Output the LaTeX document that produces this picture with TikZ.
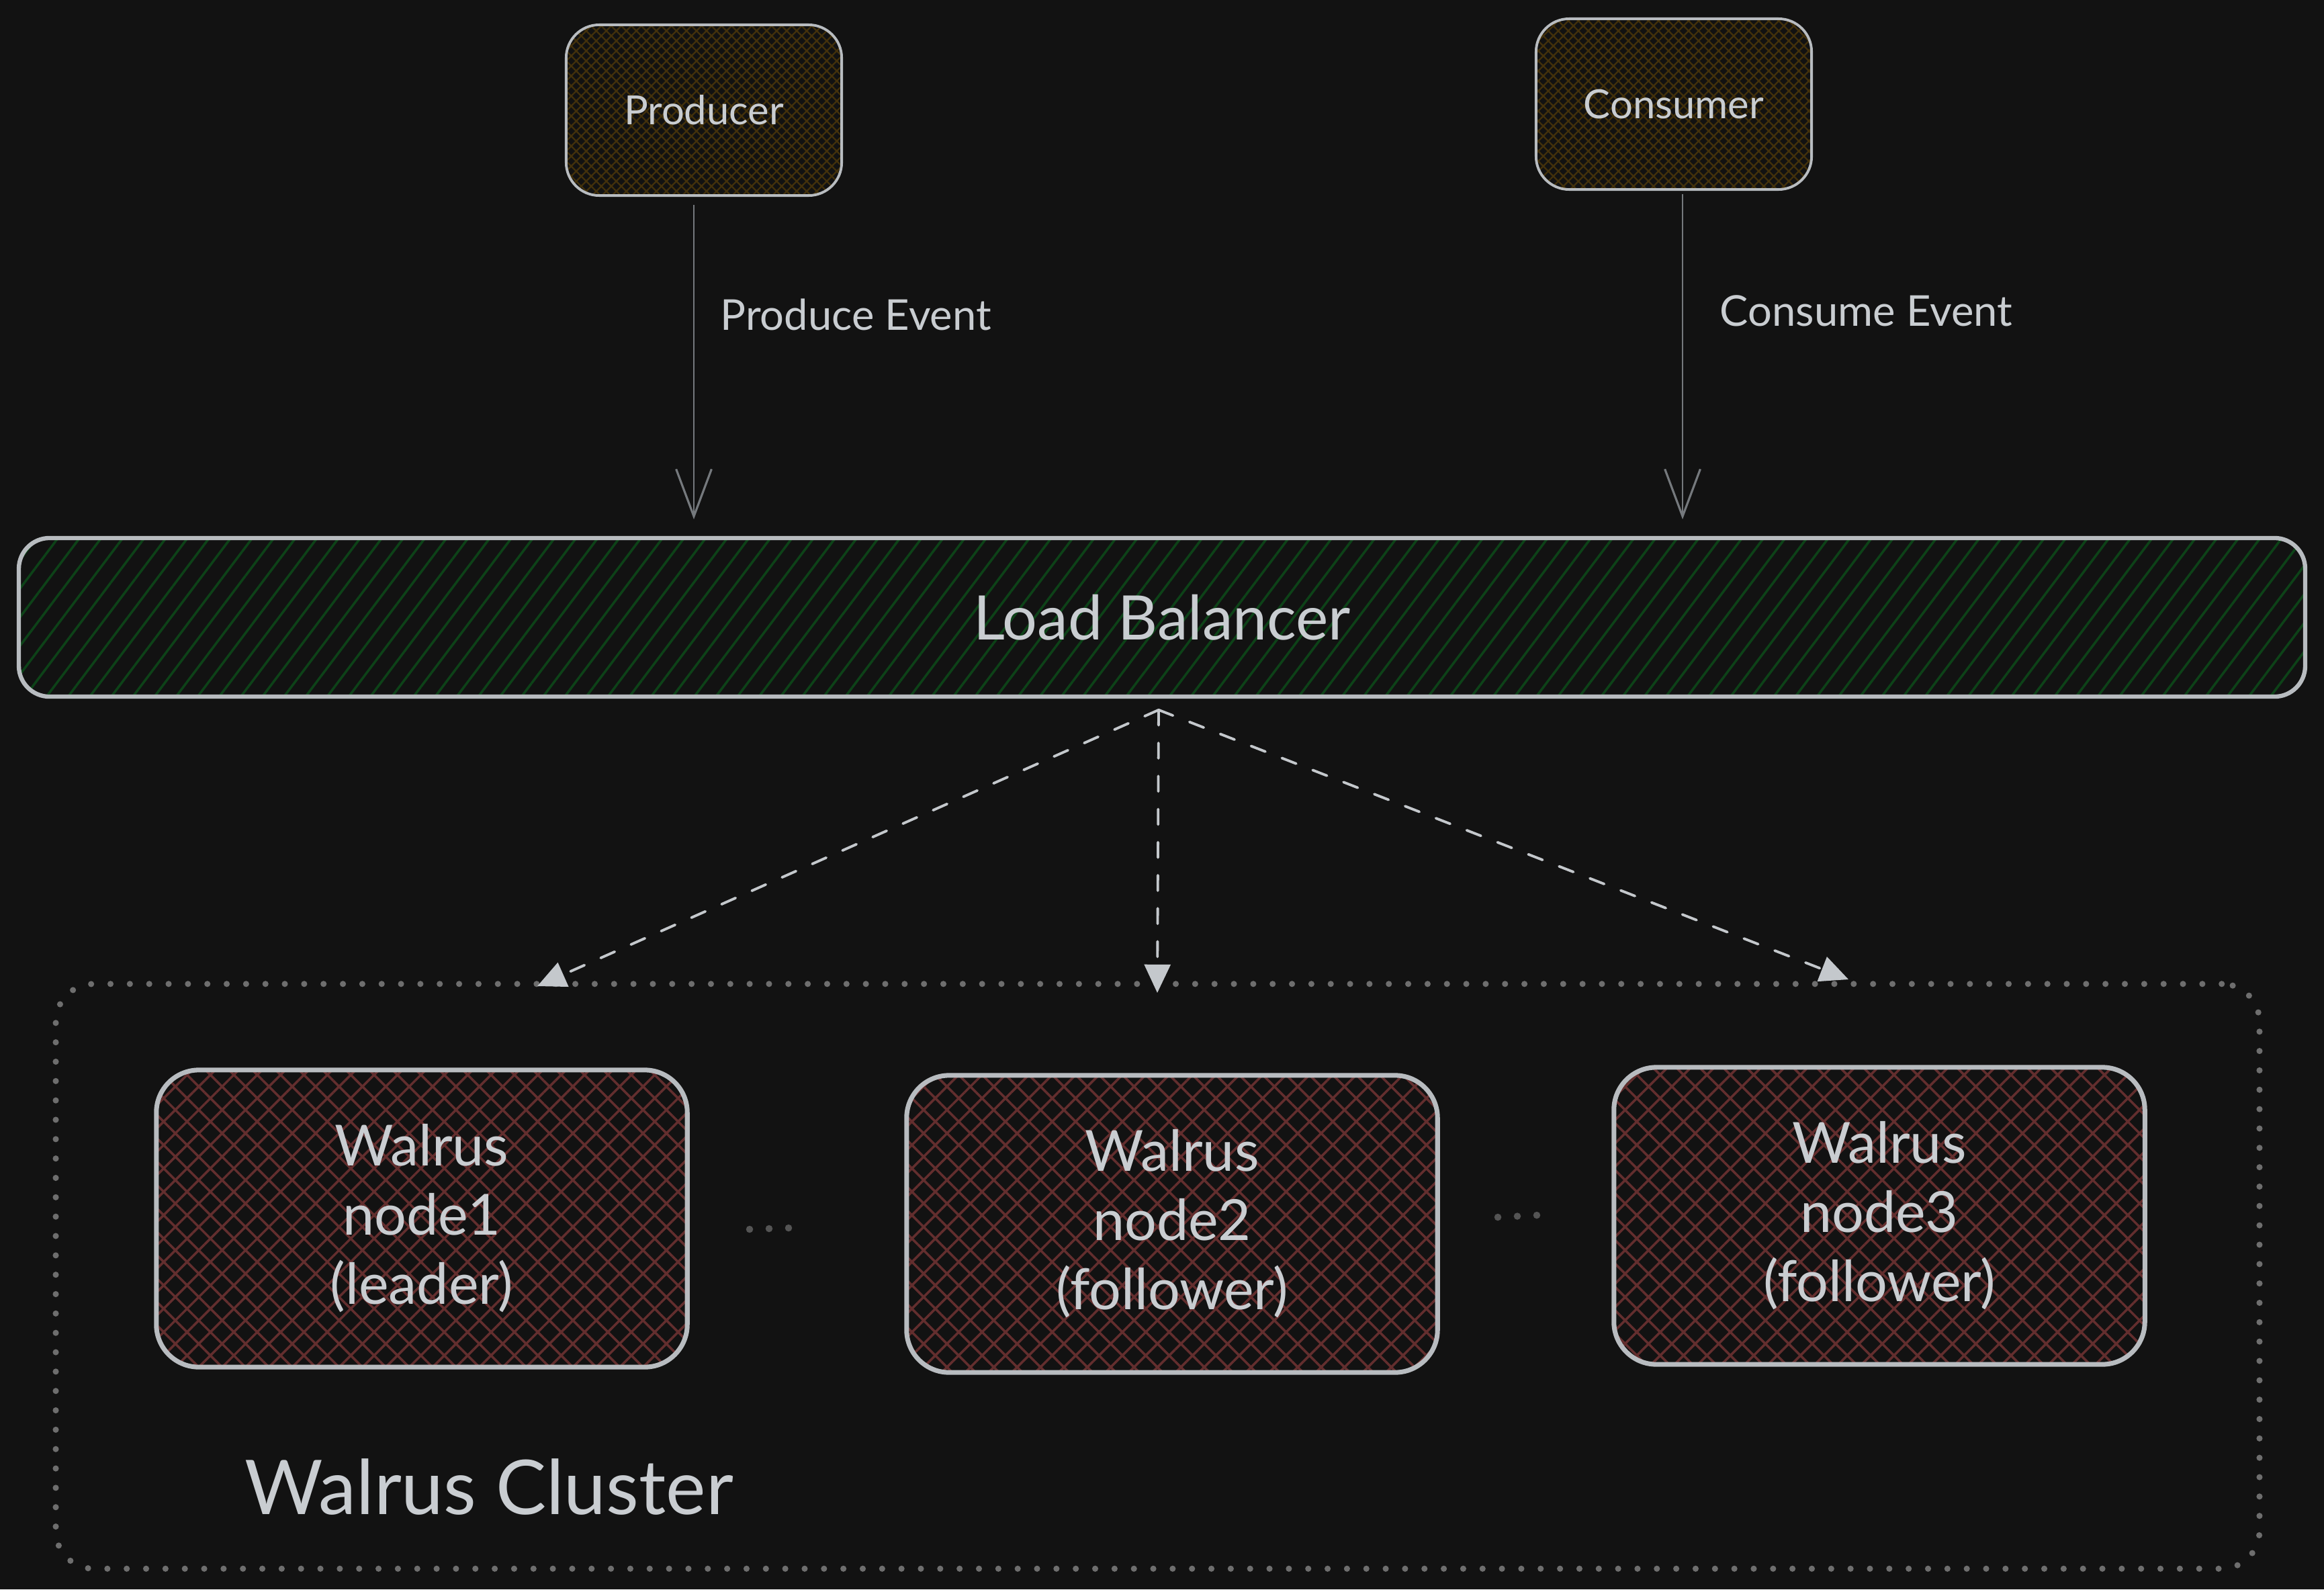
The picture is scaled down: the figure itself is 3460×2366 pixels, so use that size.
\documentclass[tikz,border=0pt]{standalone}
\usepackage{fontspec}
\setmainfont{Lato}
\usetikzlibrary{arrows.meta,patterns.meta}
\definecolor{bgc}{HTML}{121212}
\definecolor{strokec}{HTML}{B8BCC0}
\definecolor{textc}{HTML}{C9CDD1}
\definecolor{brownh}{HTML}{43310B}
\definecolor{greenh}{HTML}{0D4218}
\definecolor{redh}{HTML}{632E2E}
\definecolor{arrowgray}{HTML}{75797D}
\definecolor{dashc}{HTML}{C4C8CC}
\definecolor{dotc}{HTML}{6E6E6E}
\definecolor{ellc}{HTML}{545454}
\begin{document}
\begin{tikzpicture}[x=0.01cm,y=-0.01cm,
  topbox/.style={draw=strokec, line width=1.1pt, rounded corners=14pt,
    pattern={Hatch[angle=45,distance=3pt,line width=0.65pt]}, pattern color=brownh,
    text=textc, font=\fontsize{17}{20}\selectfont,
    minimum width=4.1cm, minimum height=2.54cm, inner sep=0pt},
  lbbox/.style={draw=strokec, line width=1.8pt, rounded corners=13pt,
    pattern={Lines[angle=53,distance=7.3pt,line width=1pt]}, pattern color=greenh,
    text=textc, font=\fontsize{26}{30}\selectfont,
    minimum width=34.02cm, minimum height=2.36cm, inner sep=0pt},
  walbox/.style={draw=strokec, line width=2pt, rounded corners=18pt,
    pattern={Hatch[angle=45,distance=7pt,line width=1pt]}, pattern color=redh,
    text=textc, font=\fontsize{24}{29.3}\selectfont, align=center,
    minimum width=7.9cm, minimum height=4.42cm, inner sep=0pt},
  clusterbox/.style={draw=dotc, line width=2.6pt, rounded corners=16pt,
    dash pattern=on 0pt off 8.2pt, line cap=round,
    minimum width=32.79cm, minimum height=8.70cm, inner sep=0pt},
  clusterlbl/.style={text=textc, font=\fontsize{32}{36}\selectfont, inner sep=0pt},
  edgelbl/.style={text=textc, font=\fontsize{18}{21}\selectfont, inner sep=0pt, anchor=west},
  toparrow/.style={draw=arrowgray, line width=0.8pt,
    -{Straight Barb[length=20pt,width=15pt,line width=0.9pt]}},
  dasharrow/.style={draw=dashc, line width=1.1pt, line cap=round,
    dash pattern=on 6.5pt off 7.5pt,
    -{Triangle[length=12pt,width=11pt]}},
  ellipsisdots/.style={draw=ellc, line width=3pt, line cap=round,
    dash pattern=on 0pt off 8.25pt}
]
\fill[bgc] (0,0) rectangle (3460,2366);
\useasboundingbox (0,0) rectangle (3460,2366);

% cluster
\node[clusterbox] (cluster) at (1723.5,1900) {};
\node[clusterlbl] (clabel) at (728,2213) {Walrus Cluster};

% top boxes
\node[topbox] (prod) at (1048,164) {Producer};
\node[topbox] (cons) at (2492,155) {Consumer};

% load balancer
\node[lbbox] (lb) at (1730,919) {Load Balancer};

% walrus nodes
\node[walbox] (n1) at (628,1814) {Walrus\\node1\\(leader)};
\node[walbox] (n2) at (1745,1822) {Walrus\\node2\\(follower)};
\node[walbox] (n3) at (2798,1810) {Walrus\\node3\\(follower)};

% ellipses between nodes
\draw[ellipsisdots] (1116,1830) -- (1175,1828);
\draw[ellipsisdots] (2230,1812) -- (2289,1809);

% top arrows
\coordinate (pend) at ([xshift=-0.15cm,yshift=0.26cm]prod.south |- lb.north);
\coordinate (cend) at ([xshift=0.13cm,yshift=0.26cm]cons.south |- lb.north);
\draw[toparrow] ([xshift=-0.15cm,yshift=-0.13cm]prod.south) -- (pend);
\draw[toparrow] ([xshift=0.13cm,yshift=-0.05cm]cons.south) -- (cend);
\node[edgelbl] (plbl) at (1072,468) {Produce Event};
\node[edgelbl] (clbl) at (2560,463) {Consume Event};

% dashed arrows
\coordinate (lbo) at ([xshift=-0.05cm,yshift=-0.18cm]lb.south);
\coordinate (t1) at (800,1468);
\coordinate (t2) at (1723,1478);
\coordinate (t3) at (2752,1458);
\draw[dasharrow] (lbo) -- (t1);
\draw[dasharrow] (lbo) -- (t2);
\draw[dasharrow] (lbo) -- (t3);
\end{tikzpicture}
\end{document}
